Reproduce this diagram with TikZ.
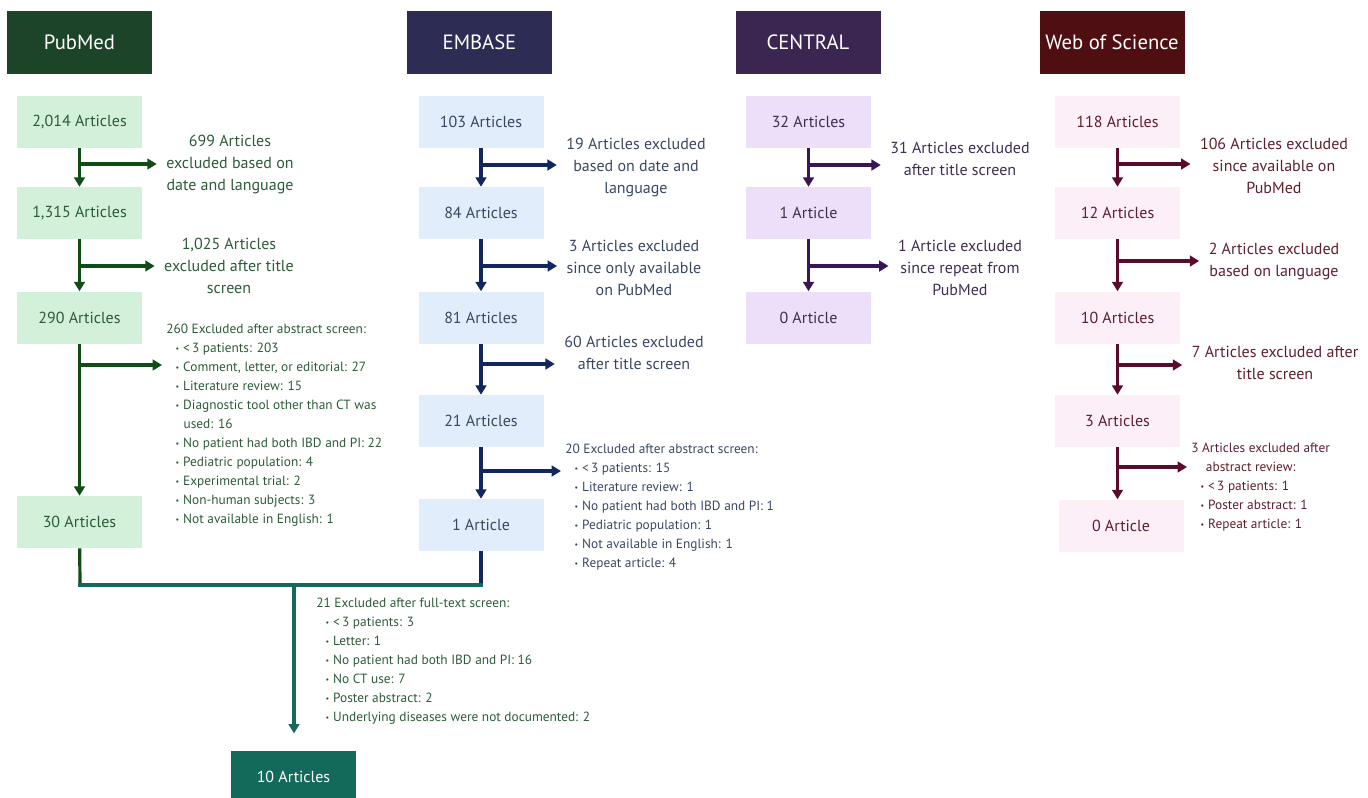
\documentclass[tikz,border=0pt]{standalone}
\usepackage{fontspec}
\setmainfont{PT Sans}
\usetikzlibrary{arrows.meta,calc}

\definecolor{pmdark}{HTML}{1C4428}
\definecolor{pmlight}{HTML}{D3F0DA}
\definecolor{pmline}{HTML}{0E4D16}
\definecolor{pmtext}{HTML}{2D5B39}
\definecolor{emdark}{HTML}{2D2C55}
\definecolor{emlight}{HTML}{E2EDFC}
\definecolor{emline}{HTML}{12265F}
\definecolor{emtext}{HTML}{3A4763}
\definecolor{cedark}{HTML}{3B2651}
\definecolor{celight}{HTML}{EDDFFA}
\definecolor{celine}{HTML}{3A1553}
\definecolor{cetext}{HTML}{3E2E52}
\definecolor{wsdark}{HTML}{4E0E12}
\definecolor{wslight}{HTML}{FDEFF8}
\definecolor{wsline}{HTML}{5C0A2C}
\definecolor{wstext}{HTML}{5E1F2C}
\definecolor{finteal}{HTML}{13695A}

\newcommand{\itm}{\hspace*{7pt}\raisebox{1.2pt}{\fontsize{6}{6}\selectfont\textbullet}\hspace{3pt}}
\newcommand{\cont}{\hspace*{13pt}}

\begin{document}
\begin{tikzpicture}[x=0.75pt, y=-0.75pt,
  hdr/.style={minimum width=108.75pt, minimum height=47.25pt, inner sep=0pt, text=white, font=\fontsize{15.5}{18}\selectfont},
  cnt/.style={minimum width=93.75pt, minimum height=39pt, inner sep=0pt, font=\fontsize{12}{14}\selectfont},
  lbl/.style={align=center, inner xsep=7pt, inner ysep=2pt, font=\fontsize{12}{16.5}\selectfont},
  lst/.style={align=left, anchor=north west, inner sep=3pt, font=\fontsize{10}{14.25}\selectfont},
  flow/.style={line width=2.4pt, -{Triangle[length=7pt,width=8pt]}},
  link/.style={line width=2.4pt}]

\useasboundingbox (0,0) rectangle (1368,797);

% PubMed
\node[hdr, fill=pmdark] (pmh) at (79.5,42.5) {PubMed};
\node[cnt, fill=pmlight, text=pmtext] (pm1) at (79.5,122) {2,014 Articles};
\node[cnt, fill=pmlight, text=pmtext] (pm2) at (79.5,213) {1,315 Articles};
\node[cnt, fill=pmlight, text=pmtext] (pm3) at (79.5,317.5) {290 Articles};
\node[cnt, fill=pmlight, text=pmtext] (pm4) at (79.5,522) {30 Articles};

\node[lbl, text=pmtext] (pmx1) at (230,164) {699 Articles\\excluded based on\\date and language};
\node[lbl, text=pmtext] (pmx2) at (229,265.5) {1,025 Articles\\excluded after title\\screen};
\node[lst, text=pmtext] (pmx3) at (162,320) {260 Excluded after abstract screen:\\
  \itm <\,3 patients: 203\\
  \itm Comment, letter, or editorial: 27\\
  \itm Literature review: 15\\
  \itm Diagnostic tool other than CT was\\
  \cont used: 16\\
  \itm No patient had both IBD and PI: 22\\
  \itm Pediatric population: 4\\
  \itm Experimental trial: 2\\
  \itm Non-human subjects: 3\\
  \itm Not available in English: 1};

\coordinate (pmb1) at (80,164);
\coordinate (pmb2) at (80,266);
\coordinate (pmb3) at (80,365);

\draw[flow, pmline] (pm1) -- (pm2);
\draw[flow, pmline] (pm2) -- (pm3);
\draw[flow, pmline] (pm3) -- (pm4);
\draw[flow, pmline] (pmb1) -- (pmb1 -| pmx1.west);
\draw[flow, pmline] (pmb2) -- (pmb2 -| pmx2.west);
\draw[flow, pmline] (pmb3) -- (pmb3 -| pmx3.west);

% EMBASE
\node[hdr, fill=emdark] (emh) at (479.5,42.5) {EMBASE};
\node[cnt, fill=emlight, text=emtext] (em1) at (481,122) {103 Articles};
\node[cnt, fill=emlight, text=emtext] (em2) at (481,213) {84 Articles};
\node[cnt, fill=emlight, text=emtext] (em3) at (481,317.5) {81 Articles};
\node[cnt, fill=emlight, text=emtext] (em4) at (481,421) {21 Articles};
\node[cnt, fill=emlight, text=emtext] (em5) at (481,525) {1 Article};

\node[lbl, text=emtext] (emx1) at (636,167.5) {19 Articles excluded\\based on date and\\language};
\node[lbl, text=emtext] (emx2) at (634,267.5) {3 Articles excluded\\since only available\\on PubMed};
\node[lbl, text=emtext] (emx3) at (634,353) {60 Articles excluded\\after title screen};
\node[lst, text=emtext] (emx4) at (561,440) {20 Excluded after abstract screen:\\
  \itm <\,3 patients: 15\\
  \itm Literature review: 1\\
  \itm No patient had both IBD and PI: 1\\
  \itm Pediatric population: 1\\
  \itm Not available in English: 1\\
  \itm Repeat article: 4};

\coordinate (emb1) at (481,165);
\coordinate (emb2) at (481,266);
\coordinate (emb3) at (481,364);
\coordinate (emb4) at (481,471);

\draw[flow, emline] (em1) -- (em2);
\draw[flow, emline] (em2) -- (em3);
\draw[flow, emline] (em3) -- (em4);
\draw[flow, emline] (em4) -- (em5);
\draw[flow, emline] (emb1) -- (emb1 -| emx1.west);
\draw[flow, emline] (emb2) -- (emb2 -| emx2.west);
\draw[flow, emline] (emb3) -- (emb3 -| emx3.west);
\draw[flow, emline] (emb4) -- (emb4 -| emx4.west);

% CENTRAL
\node[hdr, fill=cedark] (ceh) at (808,42.5) {CENTRAL};
\node[cnt, fill=celight, text=cetext] (ce1) at (808.5,122) {32 Articles};
\node[cnt, fill=celight, text=cetext] (ce2) at (808.5,213) {1 Article};
\node[cnt, fill=celight, text=cetext] (ce3) at (808.5,317.5) {0 Article};

\node[lbl, text=cetext] (cex1) at (960,159) {31 Articles excluded\\after title screen};
\node[lbl, text=cetext] (cex2) at (960,267.5) {1 Article excluded\\since repeat from\\PubMed};

\coordinate (ceb1) at (808,165);
\coordinate (ceb2) at (808,266);

\draw[flow, celine] (ce1) -- (ce2);
\draw[flow, celine] (ce2) -- (ce3);
\draw[flow, celine] (ceb1) -- (ceb1 -| cex1.west);
\draw[flow, celine] (ceb2) -- (ceb2 -| cex2.west);

% Web of Science
\node[hdr, fill=wsdark] (wsh) at (1112,42.5) {Web of Science};
\node[cnt, fill=wslight, text=wstext] (ws1) at (1117.5,122) {118 Articles};
\node[cnt, fill=wslight, text=wstext] (ws2) at (1117.5,213) {12 Articles};
\node[cnt, fill=wslight, text=wstext] (ws3) at (1117.5,317.5) {10 Articles};
\node[cnt, fill=wslight, text=wstext] (ws4) at (1117.5,421) {3 Articles};
\node[cnt, fill=wslight, text=wstext] (ws5) at (1121,525.5) {0 Article};

\node[lbl, text=wstext] (wsx1) at (1274,166) {106 Articles excluded\\since available on\\PubMed};
\node[lbl, text=wstext] (wsx2) at (1274,261) {2 Articles excluded\\based on language};
\node[lbl, text=wstext] (wsx3) at (1275,363) {7 Articles excluded after\\title screen};
\node[lst, text=wstext] (wsx4) at (1187,439) {3 Articles excluded after\\
  \hspace*{11pt}abstract review:\\
  \itm <\,3 patients: 1\\
  \itm Poster abstract: 1\\
  \itm Repeat article: 1};

\coordinate (wsb1) at (1118,164);
\coordinate (wsb2) at (1118,261);
\coordinate (wsb3) at (1118,365);
\coordinate (wsb4) at (1118,467);

\draw[flow, wsline] (ws1) -- (ws2);
\draw[flow, wsline] (ws2) -- (ws3);
\draw[flow, wsline] (ws3) -- (ws4);
\draw[flow, wsline] (ws4) -- (ws4 |- ws5.north);
\draw[flow, wsline] (wsb1) -- (wsb1 -| wsx1.west);
\draw[flow, wsline] (wsb2) -- (wsb2 -| wsx2.west);
\draw[flow, wsline] (wsb3) -- (wsb3 -| wsx3.west);
\draw[flow, wsline] (wsb4) -- (wsb4 -| wsx4.west);

% Merge into final set
\node[cnt, fill=finteal, text=white] (fin) at (293.5,777) {10 Articles};
\node[lst, text=pmtext] (finx) at (312,594) {21 Excluded after full-text screen:\\
  \itm <\,3 patients: 3\\
  \itm Letter: 1\\
  \itm No patient had both IBD and PI: 16\\
  \itm No CT use: 7\\
  \itm Poster abstract: 2\\
  \itm Underlying diseases were not documented: 2};

\coordinate (pmend) at (80,585);
\coordinate (emend) at (481,585);
\coordinate (mrg) at (294,585);

\draw[link, pmline] (pm4) -- (pmend);
\draw[link, emline] (em5) -- (emend);
\draw[link, finteal, line cap=rect] (pmend) -- (emend);
\draw[flow, finteal, shorten >=13pt] (mrg) -- (mrg |- fin.north);

\end{tikzpicture}
\end{document}
